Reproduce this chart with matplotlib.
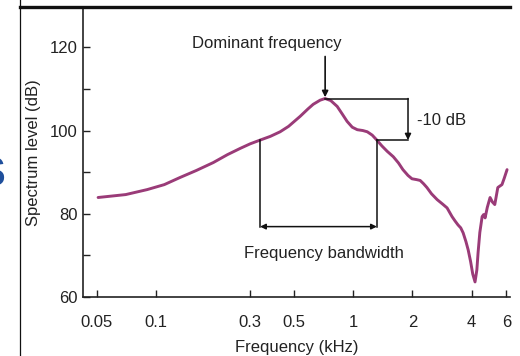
import matplotlib.pyplot as plt
from matplotlib.lines import Line2D

plt.rcParams['font.family'] = ['Liberation Sans', 'DejaVu Sans']

# spectrum (kHz, dB)
freq = [0.0507, 0.07, 0.09, 0.11, 0.132, 0.16, 0.195, 0.23, 0.267, 0.30,
        0.337, 0.38, 0.426, 0.47, 0.538, 0.59, 0.627, 0.68, 0.721, 0.77,
        0.83, 0.88, 0.932, 0.99, 1.05, 1.12, 1.18, 1.25, 1.32, 1.40,
        1.49, 1.6, 1.7, 1.79, 1.9, 1.99, 2.1, 2.19, 2.28, 2.37,
        2.5, 2.67, 2.85, 3.0, 3.18, 3.3, 3.41, 3.52, 3.62, 3.74,
        3.84, 3.95, 4.05, 4.16, 4.25, 4.31, 4.4, 4.52, 4.6, 4.68,
        4.8, 4.96, 5.1, 5.24, 5.43, 5.7, 5.85, 6.05]
level = [83.9, 84.6, 85.8, 87.0, 88.7, 90.4, 92.3, 94.2, 95.7, 96.8,
         97.7, 98.6, 99.7, 101.0, 103.4, 105.2, 106.3, 107.3, 107.7, 107.2,
         105.8, 104.0, 102.2, 100.8, 100.2, 100.0, 99.7, 98.9, 97.7, 96.3,
         95.0, 93.7, 92.2, 90.6, 89.2, 88.4, 88.2, 88.0, 87.2, 86.3,
         84.8, 83.4, 82.3, 81.4, 79.3, 78.2, 77.3, 76.6, 75.4, 73.3,
         71.3, 68.5, 65.5, 63.6, 66.5, 70.6, 75.5, 79.3, 79.8, 79.0,
         81.5, 83.9, 82.8, 82.2, 86.3, 87.0, 88.5, 90.6]

xticks = [0.05, 0.1, 0.3, 0.5, 1, 2, 4, 6]
xlabels = ['0.05', '0.1', '0.3', '0.5', '1', '2', '4', '6']

peak_f, peak_db = 0.721, 107.7
bw_lo, bw_hi, bw_db = 0.337, 1.32, 97.7
bracket_f = 1.9
bw_arrow_db = 76.9

fs = 12
tc = '#222222'

fig = plt.figure(figsize=(5.2, 3.56), dpi=100)
ax = fig.add_axes([0.16, 0.166, 0.821, 0.812])

ax.plot(freq, level, color='#9a3b78', lw=2.1, solid_capstyle='round',
        solid_joinstyle='round')
ax.set_xscale('log')
ax.set_xlim(0.0426, 6.27)
ax.set_ylim(60, 129.5)
ax.set_xticks(xticks)
ax.set_xticklabels(xlabels)
ax.xaxis.set_minor_locator(plt.NullLocator())
ax.set_yticks([60, 80, 100, 120])
ax.set_yticks([70, 90, 110], minor=True)
ax.tick_params(which='both', direction='in', length=5, width=1, labelsize=fs,
               colors=tc, pad=4)
ax.tick_params(axis='x', pad=13)
for s in ['top', 'right']:
    ax.spines[s].set_visible(False)
for s in ['left', 'bottom']:
    ax.spines[s].set_color(tc)
    ax.spines[s].set_linewidth(1.2)
ax.set_xlabel('Frequency (kHz)', fontsize=fs, color=tc, labelpad=7)
ax.set_ylabel('Spectrum level (dB)', fontsize=fs, color=tc, labelpad=6)

lc = '#111111'
# dominant frequency arrow
ax.annotate('', xy=(peak_f, peak_db + 0.3), xytext=(peak_f, 117.8),
            arrowprops=dict(arrowstyle='-|>', color=lc, lw=1.2,
                            mutation_scale=9, shrinkA=0, shrinkB=0))
ax.text(0.366, 121, 'Dominant frequency', ha='center', va='center',
        fontsize=fs, color=tc)

# -10 dB bracket
ax.plot([peak_f, bracket_f], [peak_db, peak_db], color=lc, lw=1.1)
ax.plot([bw_hi, bracket_f], [bw_db, bw_db], color=lc, lw=1.1)
ax.annotate('', xy=(bracket_f, bw_db), xytext=(bracket_f, peak_db),
            arrowprops=dict(arrowstyle='-|>', color=lc, lw=1.1,
                            mutation_scale=9, shrinkA=0, shrinkB=0))
ax.text(2.12, 102.3, '-10 dB', ha='left', va='center', fontsize=fs,
        color=tc)

# bandwidth
ax.plot([bw_lo, bw_lo], [bw_db, bw_arrow_db], color=lc, lw=1.1)
ax.plot([bw_hi, bw_hi], [bw_db, bw_arrow_db], color=lc, lw=1.1)
ax.annotate('', xy=(bw_lo, bw_arrow_db), xytext=(bw_hi, bw_arrow_db),
            arrowprops=dict(arrowstyle='<|-|>', color=lc, lw=1.1,
                            mutation_scale=8, shrinkA=0, shrinkB=0))
ax.text(0.71, 70.4, 'Frequency bandwidth', ha='center', va='center',
        fontsize=fs, color=tc)

# frame remnants of the source figure
fig.add_artist(Line2D([20 / 520, 20 / 520], [0, 1], color='#111111', lw=0.9))
fig.add_artist(Line2D([20 / 520, 510 / 520], [1 - 7 / 356, 1 - 7 / 356],
                      color='#111111', lw=2.4))
fig.text(6 / 520, 1 - 175 / 356, 'S', ha='right', va='center', fontsize=30,
         fontweight='bold', color='#1f4f9c')

fig.savefig('out.png', dpi=100)
